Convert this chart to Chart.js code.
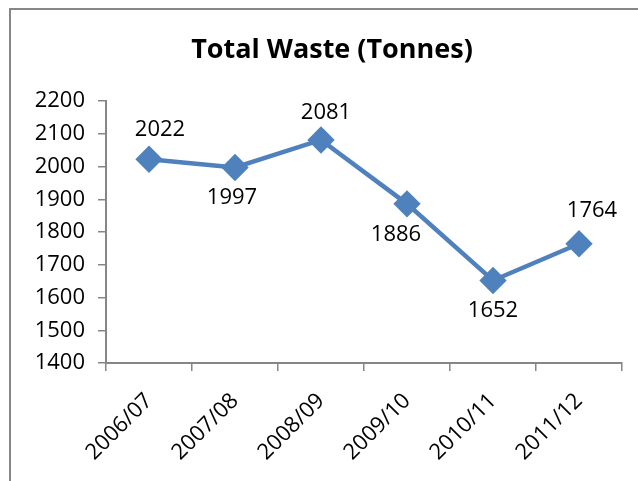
<!DOCTYPE html>
<html lang="en">
  <head>
    <meta charset="UTF-8" />
    <title>Total Waste</title>
    <script src="https://cdn.jsdelivr.net/npm/chart.js"></script>
    <style>
      body {
        margin: 0;
        overflow: hidden;
        background: #fff;
        width: 638px;
        height: 481px;
        position: relative;
      }
      #frame {
        position: absolute;
        left: 9px;
        top: 8px;
        width: 700px;
        height: 600px;
        border: 2px solid #868686;
      }
      #wrap {
        position: absolute;
        left: 0;
        top: 0;
        width: 638px;
        height: 481px;
      }
    </style>
  </head>
  <body>
    <div id="frame"></div>
    <div id="wrap"><canvas id="wasteChart"></canvas></div>
    <script>
      // years and tonnes of waste
      const years = ["2006/07", "2007/08", "2008/09", "2009/10", "2010/11", "2011/12"];
      const tonnes = [2022, 1997, 2081, 1886, 1652, 1764];
      const yMin = 1400;
      const yMax = 2200;
      const yStep = 100;
      const chartTitle = "Total Waste (Tonnes)";

      // where each value label sits relative to its point (dx, dy)
      const labelShift = [[11, -30], [-3, 30], [5, -27], [-11, 31], [0, 30], [13, -33]];

      const font = "'Open Sans', 'Liberation Sans', sans-serif";
      const axisGrey = "#868686";
      const textSize = 22;

      // title sits a little right of the plot's centre, over the whole frame
      const frameTitle = {
        id: "frameTitle",
        afterDraw(chart) {
          const ctx = chart.ctx;
          ctx.save();
          ctx.font = "bold 27px " + font;
          ctx.fillStyle = "#000";
          ctx.textAlign = "center";
          ctx.textBaseline = "middle";
          ctx.fillText(chartTitle, 332, 50);
          ctx.restore();
        },
      };

      // draws the numbers next to each point
      const valueLabels = {
        id: "valueLabels",
        afterDatasetsDraw(chart) {
          const ctx = chart.ctx;
          const meta = chart.getDatasetMeta(0);
          ctx.save();
          ctx.font = textSize + "px " + font;
          ctx.fillStyle = "#000";
          ctx.textAlign = "center";
          ctx.textBaseline = "middle";
          meta.data.forEach(function (pt, i) {
            const s = labelShift[i];
            ctx.fillText(String(tonnes[i]), pt.x + s[0], pt.y + s[1]);
          });
          ctx.restore();
        },
      };

      const ctx = document.getElementById("wasteChart").getContext("2d");
      new Chart(ctx, {
        type: "line",
        data: {
          labels: years,
          datasets: [
            {
              data: tonnes,
              borderColor: "#4F81BD",
              backgroundColor: "#4F81BD",
              borderWidth: 4.5,
              pointStyle: "rectRot",
              pointRadius: 10.5,
              pointHoverRadius: 10.5,
              tension: 0,
            },
          ],
        },
        options: {
          responsive: true,
          maintainAspectRatio: false,
          animation: false,
          layout: {
            padding: { left: 20, right: 16, top: 101, bottom: 0 },
          },
          plugins: {
            legend: { display: false },
            tooltip: { enabled: false },
          },
          scales: {
            x: {
              offset: true,
              grid: {
                offset: true,
                drawOnChartArea: false,
                drawTicks: true,
                tickLength: 8,
                color: axisGrey,
                lineWidth: 1.5,
              },
              border: { color: axisGrey, width: 2 },
              ticks: {
                color: "#000",
                font: { family: font, size: textSize },
                minRotation: 45,
                maxRotation: 45,
                padding: 17,
              },
              afterFit(scale) {
                scale.height = 118;
              },
            },
            y: {
              min: yMin,
              max: yMax,
              grid: {
                drawOnChartArea: false,
                drawTicks: true,
                tickLength: 8,
                color: axisGrey,
                lineWidth: 1.5,
              },
              border: { color: axisGrey, width: 2 },
              ticks: {
                stepSize: yStep,
                color: "#000",
                font: { family: font, size: textSize },
                padding: 13,
                callback: function (v) {
                  return String(v);
                },
              },
              afterFit(scale) {
                scale.width = 86;
              },
            },
          },
        },
        plugins: [valueLabels, frameTitle],
      });
    </script>
  </body>
</html>
